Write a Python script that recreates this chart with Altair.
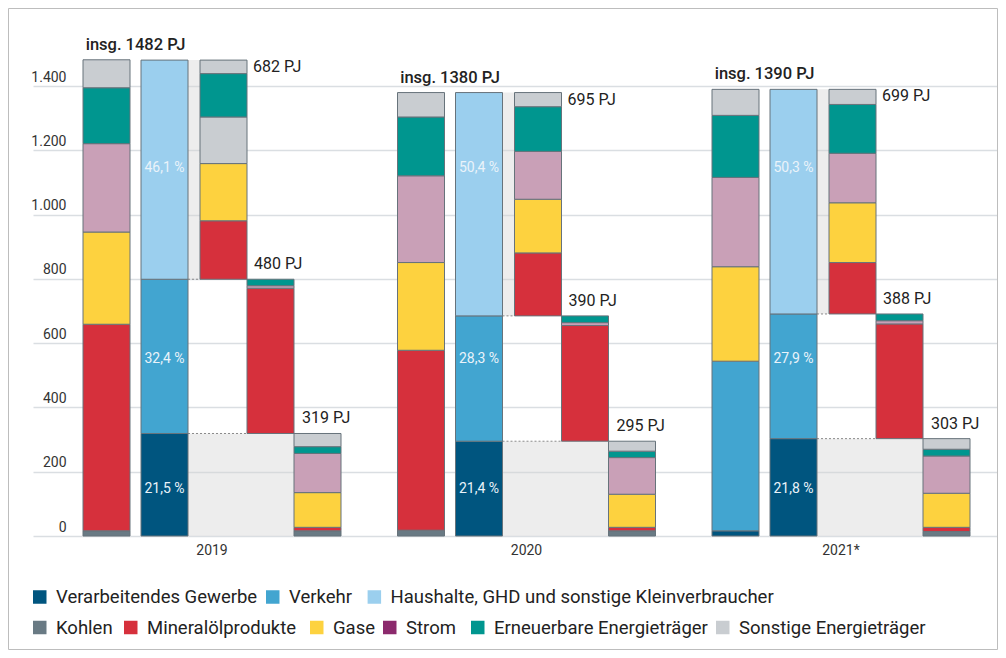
import altair as alt
import pandas as pd

# ---------------- data ----------------
years = ["2019", "2020", "2021*"]
totals = [1482, 1380, 1390]

sectors = ["Verarbeitendes Gewerbe", "Verkehr",
           "Haushalte, GHD und sonstige Kleinverbraucher"]
sector_pj = [[319, 480, 682], [295, 390, 695], [303, 388, 699]]
sector_pct = [["21,5 %", "32,4 %", "46,1 %"],
              ["21,4 %", "28,3 %", "50,4 %"],
              ["21,8 %", "27,9 %", "50,3 %"]]

carriers = ["Kohlen", "Mineralölprodukte", "Gase", "Strom",
            "Erneuerbare Energieträger", "Sonstige Energieträger"]
mix_gesamt = [[16, 643, 287, 275, 174, 87],
              [18, 560, 273, 270, 183, 76],
              [16, 528, 294, 278, 193, 81]]
mix_haushalte = [[0, 182, 178, 145, 135, 42],
                 [0, 196, 167, 149, 139, 44],
                 [0, 160, 186, 154, 152, 47]]
mix_verkehr = [[0, 452, 0, 8, 20, 0],
               [0, 360, 0, 9, 21, 0],
               [0, 357, 0, 10, 21, 0]]
mix_industrie = [[16, 11, 108, 122, 21, 41],
                 [16, 11, 103, 114, 20, 31],
                 [14, 13, 106, 116, 21, 33]]

# segments that the original graphic fills with another colour
fill_quirks = {(0, "haushalte", "Strom"): "Sonstige Energieträger",
               (2, "gesamt", "Kohlen"): "Verarbeitendes Gewerbe",
               (2, "gesamt", "Mineralölprodukte"): "Verkehr"}

legend_row1 = sectors
legend_row2 = carriers

# ---------------- styles / layout ----------------
FONT = "Roboto"
W, H = 965, 482
Y_MAX = 1500
GROUP_X = [50, 364.5, 679]
SLOT = [0, 58, 117, 164, 211]
BW = 47
PCT_LEVEL = [146, 550, 1145]

fill_colors = {
    "Verarbeitendes Gewerbe": "#00557f",
    "Verkehr": "#42a5d0",
    "Haushalte, GHD und sonstige Kleinverbraucher": "#9bcfee",
    "Kohlen": "#697a84",
    "Mineralölprodukte": "#d6303c",
    "Gase": "#fdd23f",
    "Strom": "#c9a0b7",
    "Erneuerbare Energieträger": "#00968f",
    "Sonstige Energieträger": "#c9cdd1",
}
legend_colors = dict(fill_colors)
legend_colors["Strom"] = "#8c2a6d"

LEG1_X = [0, 233, 334.6]
LEG2_X = [0, 91, 277, 350, 438, 683]
LEG1_Y, LEG2_Y = 543, 573.5
SW = 13.5

# ---------------- build tables ----------------
seg_rows, bg_rows, con_rows = [], [], []
tot_rows, hh_rows, vk_rows, ind_rows, pct_rows, yr_rows = [], [], [], [], [], []

for gi, yr in enumerate(years):
    gx = GROUP_X[gi]
    I, V, Hh = sector_pj[gi]

    def stack(slot, name, mix, base):
        cum = base
        for c, v in zip(carriers, mix):
            if v <= 0:
                continue
            seg_rows.append(dict(year=yr, bar=name, cat=c,
                                 key=fill_quirks.get((gi, name, c), c),
                                 value=v, x0=gx + SLOT[slot],
                                 x1=gx + SLOT[slot] + BW, y0=cum, y1=cum + v))
            cum += v

    stack(0, "gesamt", mix_gesamt[gi], 0)
    cum = 0
    for s, v in zip(sectors, sector_pj[gi]):
        seg_rows.append(dict(year=yr, bar="sektoren", cat=s, key=s, value=v,
                             x0=gx + SLOT[1], x1=gx + SLOT[1] + BW,
                             y0=cum, y1=cum + v))
        cum += v
    stack(2, "haushalte", mix_haushalte[gi], I + V)
    stack(3, "verkehr", mix_verkehr[gi], I)
    stack(4, "industrie", mix_industrie[gi], 0)

    gap0 = gx + SLOT[1] + BW
    bg_rows.append(dict(x0=gap0, x1=gx + SLOT[2], y0=I + V, y1=I + V + Hh))
    bg_rows.append(dict(x0=gap0, x1=gx + SLOT[4], y0=0, y1=I))
    con_rows.append(dict(x0=gap0, x1=gx + SLOT[2], y=I + V))
    con_rows.append(dict(x0=gap0, x1=gx + SLOT[3], y=I))

    tot_rows.append(dict(x=gx + (SLOT[1] + BW) / 2, y=totals[gi],
                         t=f"insg. {totals[gi]} PJ"))
    hh_rows.append(dict(x=gx + SLOT[2] + BW, y=I + V + Hh, t=f"{Hh} PJ"))
    vk_rows.append(dict(x=gx + SLOT[3], y=I + V, t=f"{V} PJ"))
    ind_rows.append(dict(x=gx + SLOT[4], y=I, t=f"{I} PJ"))
    for k in range(3):
        pct_rows.append(dict(x=gx + SLOT[1] + BW / 2, y=PCT_LEVEL[k],
                             t=sector_pct[gi][k]))
    yr_rows.append(dict(x=gx + (SLOT[4] + BW) / 2, t=yr))

seg = pd.DataFrame(seg_rows)
bg = pd.DataFrame(bg_rows)
con = pd.DataFrame(con_rows)

xs = alt.Scale(domain=[0, W], nice=False, zero=False)
ys = alt.Scale(domain=[0, Y_MAX], nice=False, zero=True)

y_axis = alt.Axis(values=list(range(0, 1401, 200)), title=None, domain=False,
                  ticks=False, tickSize=0, labelPadding=-33, labelAlign="right",
                  labelBaseline="alphabetic", labelOffset=-5, labelFontSize=14,
                  labelFont=FONT, labelColor="#333333", gridColor="#dadee2",
                  gridWidth=1.3, grid=True,
                  labelExpr="replace(format(datum.value, ','), ',', '.')")


def X(f):
    return alt.X(f, scale=xs, axis=None)


def Yn(f):
    return alt.Y(f, scale=ys, axis=y_axis, title=None)


background = alt.Chart(bg).mark_rect(fill="#d4d4d4", opacity=0.42).encode(
    x=X("x0:Q"), x2="x1:Q", y=Yn("y0:Q"), y2="y1:Q")

connectors = alt.Chart(con).mark_rule(color="#8a8a8a", strokeDash=[2, 2],
                                      strokeWidth=1).encode(
    x=X("x0:Q"), x2="x1:Q", y=Yn("y:Q"))

keys = list(fill_colors.keys())
bars = alt.Chart(seg).mark_rect(stroke="#67737b", strokeWidth=1).encode(
    x=X("x0:Q"), x2="x1:Q",
    y=Yn("y0:Q"), y2="y1:Q",
    color=alt.Color("key:N", scale=alt.Scale(domain=keys,
                    range=[fill_colors[k] for k in keys]), legend=None),
    tooltip=["year:N", "bar:N", "cat:N", "value:Q"])


def text_layer(rows, **kw):
    return alt.Chart(pd.DataFrame(rows)).mark_text(font=FONT, **kw).encode(
        x=X("x:Q"), y=Yn("y:Q"), text="t:N")


tot_text = text_layer(tot_rows, align="center", baseline="alphabetic", dy=-10,
                      fontSize=16.5, fontWeight=500, color="#222222")
hh_text = text_layer(hh_rows, align="left", baseline="top", dx=6, dy=-1,
                     fontSize=16, color="#222222")
vk_text = text_layer(vk_rows, align="left", baseline="alphabetic", dx=7,
                     dy=-10, fontSize=16, color="#222222")
ind_text = text_layer(ind_rows, align="left", baseline="alphabetic", dx=8,
                      dy=-10, fontSize=16, color="#222222")
pct_text = text_layer(pct_rows, align="center", baseline="middle",
                      fontSize=14, color="#eaf3fa")

yr_text = alt.Chart(pd.DataFrame(yr_rows)).mark_text(
    font=FONT, fontSize=14, color="#333333", baseline="middle").encode(
    x=X("x:Q"), y=alt.value(H + 15), text="t:N")


def legend_layers(labels, xpos, ypx):
    df = pd.DataFrame(dict(label=labels,
                           col=[legend_colors[l] for l in labels],
                           sx=[p + SW / 2 for p in xpos],
                           tx=[p + SW + 9.5 for p in xpos]))
    sq = alt.Chart(df).mark_square(size=SW * SW, opacity=1).encode(
        x=X("sx:Q"), y=alt.value(ypx), color=alt.Color("col:N", scale=None))
    tx = alt.Chart(df).mark_text(font=FONT, fontSize=18.5, align="left",
                                 baseline="middle", color="#222222").encode(
        x=X("tx:Q"), y=alt.value(ypx), text="label:N")
    return [sq, tx]


frame = alt.Chart(pd.DataFrame({"a": [0]})).mark_rect(
    filled=False, stroke="#bdbdbd", strokeWidth=1).encode(
    x=alt.value(-24.5), x2=alt.value(W - 0.5),
    y=alt.value(-45.5), y2=alt.value(H + 113.5))

chart = alt.layer(
    background, connectors, bars, tot_text, hh_text, vk_text, ind_text,
    pct_text, yr_text,
    *legend_layers(legend_row1, LEG1_X, LEG1_Y),
    *legend_layers(legend_row2, LEG2_X, LEG2_Y),
    frame,
).properties(
    width=W, height=H,
    padding={"left": 25, "top": 46, "right": 0, "bottom": 114},
    autosize=alt.AutoSizeParams(type="none"),
    background="white",
).configure_view(stroke=None)

chart.save("out.html", embed_options={"renderer": "svg", "actions": False})
